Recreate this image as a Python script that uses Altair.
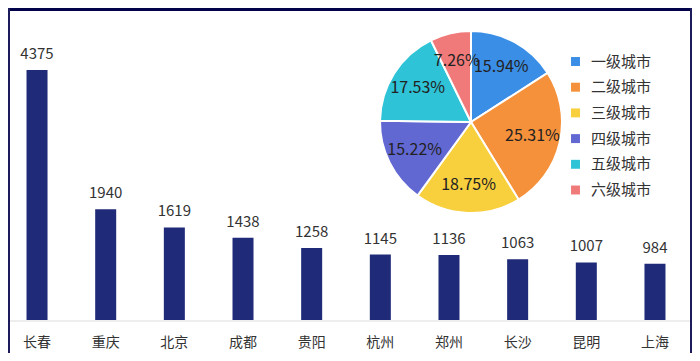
import altair as alt
import pandas as pd

cities = ["长春", "重庆", "北京", "成都", "贵阳", "杭州", "郑州", "长沙", "昆明", "上海"]
counts = [4375, 1940, 1619, 1438, 1258, 1145, 1136, 1063, 1007, 984]

tiers = ["一级城市", "二级城市", "三级城市", "四级城市", "五级城市", "六级城市"]
shares = [15.94, 25.31, 18.75, 15.22, 17.53, 7.26]
tier_colors = ["#3a8ee6", "#f5913a", "#f8cf3c", "#6268d2", "#2ec3d6", "#f07a7a"]

FONT = "Noto Sans CJK SC"
W, H = 684, 345

bar_df = pd.DataFrame({"city": cities, "count": counts})
pie_df = pd.DataFrame({
    "tier": tiers,
    "share": shares,
    "order": list(range(len(tiers))),
    "label": [f"{s:.2f}%" for s in shares],
})
one = pd.DataFrame({"k": [0]})

xscale = alt.Scale(domain=cities, range=[-5.3, 681.3], paddingInner=0.694, paddingOuter=0.347)
yscale = alt.Scale(domain=[0, 4375], range=[312, 62], nice=False, zero=True)

x_enc = alt.X("city:N", scale=xscale, axis=None)

baseline = alt.Chart(one).mark_rule(color="#dcdcdc", strokeWidth=1).encode(
    x=alt.value(0), x2=alt.value(W), y=alt.value(313)
)

bars = alt.Chart(bar_df).mark_bar(color="#1f2b78").encode(
    x=x_enc, y=alt.Y("count:Q", scale=yscale, axis=None)
)
values = alt.Chart(bar_df).mark_text(
    dy=-8, baseline="bottom", fontSize=15, color="#333333", font=FONT
).encode(x=x_enc, y=alt.Y("count:Q", scale=yscale, axis=None), text="count:Q")

xlabels = alt.Chart(bar_df).mark_text(
    baseline="middle", fontSize=14, color="#333333", font=FONT
).encode(x=x_enc, y=alt.value(335), text="city:N")

pie_base = alt.Chart(pie_df).encode(
    theta=alt.Theta("share:Q", stack=True),
    order=alt.Order("order:Q"),
    x=alt.value(463),
    y=alt.value(114),
)
arc = pie_base.mark_arc(outerRadius=91, stroke="white", strokeWidth=2).encode(
    color=alt.Color(
        "tier:N",
        scale=alt.Scale(domain=tiers, range=tier_colors),
        legend=alt.Legend(
            orient="none", legendX=560, legendY=46, title=None,
            symbolType="square", symbolSize=80, symbolStrokeWidth=0,
            labelFontSize=15, labelColor="#333333", labelFont=FONT,
            rowPadding=9.7, labelOffset=8,
        ),
    )
)
pie_text = pie_base.mark_text(radius=63, fontSize=16, color="#222222", font=FONT).encode(
    text="label:N"
)

top_band = alt.Chart(one).mark_rect(color="#03034c").encode(
    x=alt.value(0), x2=alt.value(W), y=alt.value(0), y2=alt.value(3)
)
left_border = alt.Chart(one).mark_rule(color="#1c1c5c", strokeWidth=2).encode(
    x=alt.value(1), y=alt.value(0), y2=alt.value(H)
)
right_border = alt.Chart(one).mark_rule(color="#1c1c5c", strokeWidth=2).encode(
    x=alt.value(W - 1), y=alt.value(0), y2=alt.value(H)
)

chart = alt.layer(
    baseline, bars, values, xlabels, arc, pie_text, top_band, left_border, right_border
).properties(
    width=W, height=H, padding=0, autosize=alt.AutoSizeParams(type="none")
).configure_view(stroke=None).configure(font=FONT)

chart.save("out.html", embed_options={"renderer": "svg", "actions": False})
